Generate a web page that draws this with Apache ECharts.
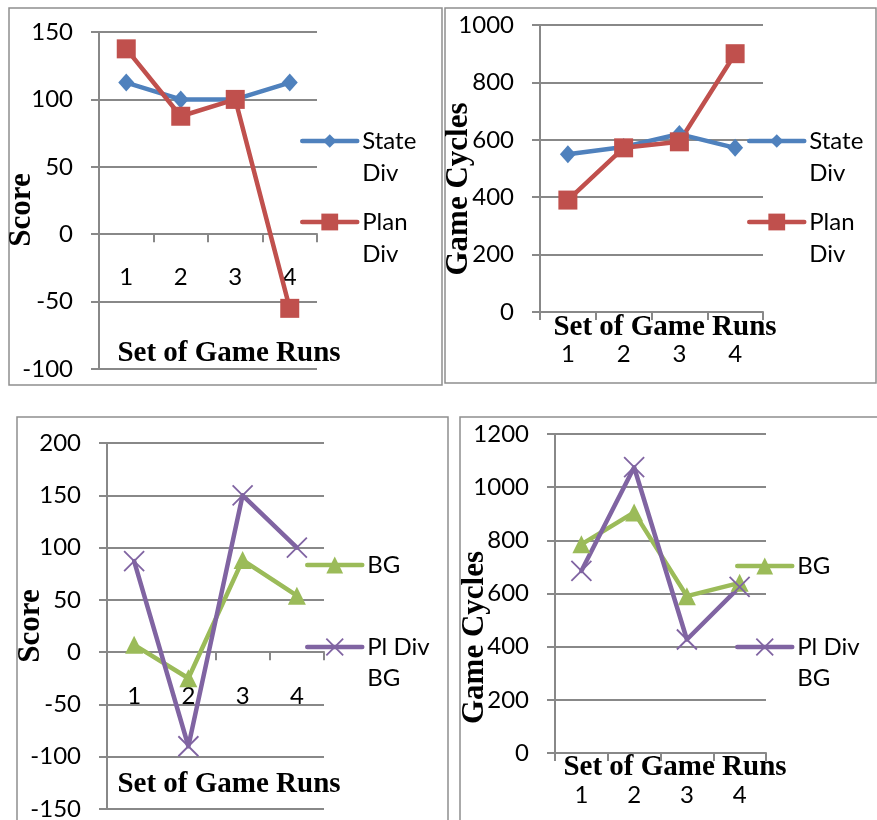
<!DOCTYPE html>
<html>
<head>
<meta charset="utf-8">
<script src="https://cdn.jsdelivr.net/npm/echarts@6/dist/echarts.min.js"></script>
<style>
html,body{margin:0;padding:0;background:#fff;}
#c{width:877px;height:820px;}
</style>
</head>
<body>
<div id="c"></div>
<script>
// ---- data ----
const categories = ['1', '2', '3', '4'];
const scoreStateDiv = [112.5, 100, 100, 112.5];
const scorePlanDiv = [137.5, 87.5, 100, -55];
const cyclesStateDiv = [550, 575, 620, 572];
const cyclesPlanDiv = [390, 572, 593, 900];
const scoreBG = [7, -25, 88, 54];
const scorePlDivBG = [87, -90, 150, 100];
const cyclesBG = [785, 905, 590, 640];
const cyclesPlDivBG = [685, 1075, 427, 625];
const seriesNames = ['State Div', 'Plan Div', 'BG', 'Pl Div BG'];
const legendLabels = [' \nState\nDiv', ' \nPlan\nDiv', 'BG', ' \nPl Div\nBG'];
const xAxisTitle = 'Set of Game Runs';
const scoreTitle = 'Score';
const cyclesTitle = 'Game Cycles';

// ---- styles ----
const BLUE = '#4F81BD', RED = '#C0504D', GREEN = '#9BBB59', PURPLE = '#8064A2';
const GRAY = '#888888';
const SANS = 'Lato, "Liberation Sans", sans-serif';
const SERIF = '"Liberation Serif", "Times New Roman", serif';
const XMARK = 'path://M0,0L20,20M20,0L0,20';
const FS = 24;

const chart = echarts.init(document.getElementById('c'), null, {renderer: 'canvas'});

const grids = [
  {left: 99, top: 32, width: 218, height: 337},
  {left: 540, top: 25, width: 223, height: 287},
  {left: 107, top: 443, width: 217, height: 366},
  {left: 555, top: 434, width: 211, height: 319}
].map(g => Object.assign({outerBoundsMode: 'none', containLabel: false}, g));

function xAxis(i, labelMargin, nameGap, padLeft) {
  return {
    type: 'category', gridIndex: i, data: categories, boundaryGap: true,
    axisLine: {show: true, onZero: true, lineStyle: {color: GRAY, width: 2}},
    axisTick: {show: true, length: 8, lineStyle: {color: GRAY, width: 2}},
    axisLabel: {margin: labelMargin, fontSize: FS, color: '#000', fontFamily: SANS, hideOverlap: false},
    splitLine: {show: false},
    name: xAxisTitle, nameLocation: 'middle', nameGap: nameGap, nameMoveOverlap: false,
    nameTextStyle: {fontFamily: SERIF, fontWeight: 'bold', fontSize: 29, color: '#000',
      verticalAlign: 'middle', align: 'center', padding: [0, 0, 0, padLeft]}
  };
}
function yAxis(i, min, max, interval, name, nameGap, padRight) {
  return {
    type: 'value', gridIndex: i, min: min, max: max, interval: interval,
    axisLine: {show: true, lineStyle: {color: GRAY, width: 2}},
    axisTick: {show: true, length: 8, lineStyle: {color: GRAY, width: 2}},
    axisLabel: {margin: 26, fontSize: FS, color: '#000', fontFamily: SANS,
      formatter: function (v) { return String(v); }},
    splitLine: {show: true, lineStyle: {color: GRAY, width: 2}},
    name: name, nameLocation: 'middle', nameRotate: 90, nameGap: nameGap, nameMoveOverlap: false,
    nameTextStyle: {fontFamily: SERIF, fontWeight: 'bold', fontSize: 31, color: '#000',
      verticalAlign: 'middle', align: 'center', padding: [0, padRight, 0, 0]}
  };
}
function line(i, name, data, color, symbol, size, extraItem) {
  return {
    type: 'line', name: name, xAxisIndex: i, yAxisIndex: i, data: data,
    symbol: symbol, symbolSize: size, showAllSymbol: true,
    lineStyle: {color: color, width: 4.5, cap: 'round', join: 'round'},
    itemStyle: Object.assign({color: color}, extraItem || {}),
    emphasis: {disabled: true}
  };
}
function legend(name, label, left, cy, iconH, lineH, threeLines, extra) {
  const lg = {
    data: [name], orient: 'vertical', left: left,
    top: threeLines ? cy - 1.5 * lineH : cy - lineH / 2,
    padding: 0, itemWidth: 55, itemHeight: iconH, itemGap: 0,
    selectedMode: false,
    formatter: function () { return label; },
    textStyle: {fontFamily: SANS, fontSize: FS, color: '#000', lineHeight: lineH},
    lineStyle: {width: 4.5}
  };
  return Object.assign(lg, extra || {});
}

const xItem = {borderColor: PURPLE, borderWidth: 1.8};

const option = {
  animation: false,
  backgroundColor: '#fff',
  grid: grids,
  xAxis: [xAxis(0, -104, -15, 42), xAxis(1, 30, 16, 27), xAxis(2, -125, -24, 27), xAxis(3, 30, 15, 29)],
  yAxis: [
    yAxis(0, -100, 150, 50, scoreTitle, 77, 19),
    yAxis(1, 0, 1000, 200, cyclesTitle, 81, 41),
    yAxis(2, -150, 200, 50, scoreTitle, 76, 0),
    yAxis(3, 0, 1200, 200, cyclesTitle, 80, 88)
  ],
  legend: [
    legend(seriesNames[0], legendLabels[0], 300, 141, 17, 32, true),
    legend(seriesNames[1], legendLabels[1], 300, 222, 21, 32, true),
    legend(seriesNames[0], legendLabels[0], 747, 141, 17, 32, true),
    legend(seriesNames[1], legendLabels[1], 747, 222, 21, 32, true),
    legend(seriesNames[2], legendLabels[2], 305, 565, 21, 31, false),
    legend(seriesNames[3], legendLabels[3], 305, 647, 21, 31, true, {itemStyle: xItem}),
    legend(seriesNames[2], legendLabels[2], 735, 566, 21, 31, false),
    legend(seriesNames[3], legendLabels[3], 735, 647, 21, 31, true, {itemStyle: xItem})
  ],
  series: [
    line(0, seriesNames[0], scoreStateDiv, BLUE, 'diamond', [16, 18]),
    line(0, seriesNames[1], scorePlanDiv, RED, 'rect', 19),
    line(1, seriesNames[0], cyclesStateDiv, BLUE, 'diamond', [16, 18]),
    line(1, seriesNames[1], cyclesPlanDiv, RED, 'rect', 19),
    line(2, seriesNames[2], scoreBG, GREEN, 'triangle', 18),
    line(2, seriesNames[3], scorePlDivBG, PURPLE, XMARK, 20, xItem),
    line(3, seriesNames[2], cyclesBG, GREEN, 'triangle', 18),
    line(3, seriesNames[3], cyclesPlDivBG, PURPLE, XMARK, 20, xItem)
  ],
  graphic: [
    {type: 'rect', shape: {x: 9, y: 8, width: 433, height: 377}, style: {fill: 'none', stroke: '#8f8f8f', lineWidth: 1.5}, z: -1},
    {type: 'rect', shape: {x: 445, y: 8, width: 431, height: 375}, style: {fill: 'none', stroke: '#8f8f8f', lineWidth: 1.5}, z: -1},
    {type: 'rect', shape: {x: 17, y: 417, width: 431, height: 420}, style: {fill: 'none', stroke: '#8f8f8f', lineWidth: 1.5}, z: -1},
    {type: 'rect', shape: {x: 460, y: 417, width: 430, height: 420}, style: {fill: 'none', stroke: '#8f8f8f', lineWidth: 1.5}, z: -1}
  ]
};
chart.setOption(option);
</script>
</body>
</html>
